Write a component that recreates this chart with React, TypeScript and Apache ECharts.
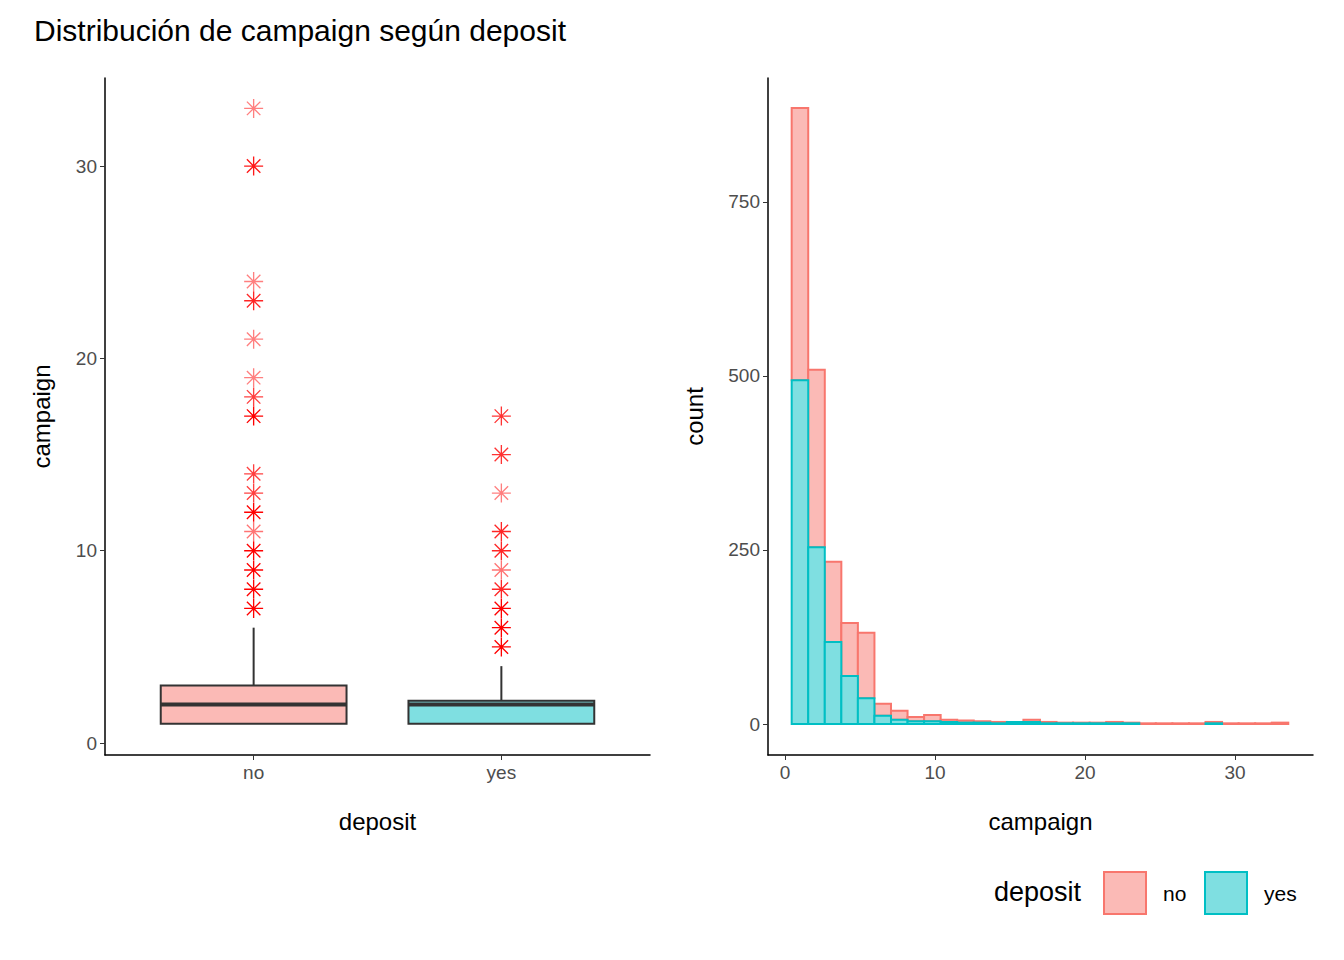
import React, { useEffect, useRef } from "react";
import * as echarts from "echarts";

// boxplot stats per deposit group: [x, lower, q1, median, q3, upper]
const boxGroups = ["no", "yes"];
const boxStats = [
  [1, 1, 1, 2, 3, 6],
  [2, 1, 1, 2, 2.2, 4],
];
// outliers: [x, value, opacity]
const outliersNo = [
  [1, 7, 1], [1, 8, 1], [1, 9, 1], [1, 10, 1], [1, 11, 0.55], [1, 12, 1], [1, 13, 0.75],
  [1, 14, 0.75], [1, 17, 1], [1, 18, 0.75], [1, 19, 0.5], [1, 21, 0.5], [1, 23, 0.85],
  [1, 24, 0.5], [1, 30, 0.9], [1, 33, 0.5],
];
const outliersYes = [
  [2, 5, 1], [2, 6, 1], [2, 7, 1], [2, 8, 0.85], [2, 9, 0.55], [2, 10, 0.85], [2, 11, 0.85],
  [2, 13, 0.5], [2, 15, 0.8], [2, 17, 0.8],
];

// histogram: 30 bins over 1..33
const binStart = 1;
const binWidth = 32 / 29;
const histYes = [494, 254, 118, 69, 37, 12, 6, 4, 4, 3, 2, 2, 1, 3, 3, 1, 1, 1, 1, 1, 1, 0, 0, 0, 0, 1, 0, 0, 0, 0];
const histTotal = [885, 509, 233, 145, 131, 29, 19, 10, 13, 6, 5, 4, 3, 3, 6, 3, 2, 2, 2, 3, 2, 1, 1, 1, 1, 3, 1, 1, 1, 2];
const histNo = histTotal.map((t, i) => t - histYes[i]);

const boxYTicks = [0, 10, 20, 30];
const histXTicks = [0, 10, 20, 30];
const histYTicks = [0, 250, 500, 750];

const NO_LINE = "#F8766D";
const NO_FILL = "#FBBAB6";
const YES_LINE = "#00BFC4";
const YES_FILL = "#7FDFE1";

const ASTERISK =
  "path://M9.3,0H10.7V20H9.3Z M0,9.3H20V10.7H0Z M2.4,3.4L3.4,2.4L17.6,16.6L16.6,17.6Z M16.6,2.4L17.6,3.4L3.4,17.6L2.4,16.6Z";

const FONT = "Liberation Sans";

const axisCommon = {
  axisLine: { show: true, onZero: false, lineStyle: { color: "#000", width: 1.5 } },
  axisTick: { show: true, length: 5, lineStyle: { color: "#333" } },
  axisLabel: { color: "#4d4d4d", fontSize: 19, fontFamily: FONT },
  splitLine: { show: false },
  nameTextStyle: { color: "#000", fontSize: 24, fontFamily: FONT },
};

const App: React.FC = () => {
  const chartRef = useRef<HTMLDivElement>(null);

  useEffect(() => {
    if (!chartRef.current) return;
    const chart = echarts.init(chartRef.current, undefined, { renderer: "svg" });

    const boxRender = (params: any, api: any) => {
      const x = api.value(0);
      const half = 0.375;
      const fill = x === 1 ? NO_FILL : YES_FILL;
      const tl = api.coord([x - half, api.value(4)]);
      const br = api.coord([x + half, api.value(2)]);
      const medL = api.coord([x - half, api.value(3)]);
      const medR = api.coord([x + half, api.value(3)]);
      const wTop = api.coord([x, api.value(5)]);
      const wLow = api.coord([x, api.value(1)]);
      const stroke = { stroke: "#333", lineWidth: 2 };
      return {
        type: "group",
        children: [
          { type: "line", shape: { x1: wTop[0], y1: tl[1], x2: wTop[0], y2: wTop[1] }, style: stroke },
          { type: "line", shape: { x1: wLow[0], y1: br[1], x2: wLow[0], y2: wLow[1] }, style: stroke },
          { type: "rect", shape: { x: tl[0], y: tl[1], width: br[0] - tl[0], height: br[1] - tl[1] }, style: { fill, ...stroke } },
          { type: "line", shape: { x1: medL[0], y1: medL[1], x2: medR[0], y2: medR[1] }, style: { stroke: "#333", lineWidth: 4 } },
        ],
      };
    };

    const histRender = (fill: string, line: string, stacked: boolean) => (params: any, api: any) => {
      const i = api.value(0);
      const h = api.value(1);
      if (h <= 0) return null;
      const base = stacked ? histYes[i] : 0;
      const x0 = binStart + (i - 0.5) * binWidth;
      const p0 = api.coord([x0, base + h]);
      const p1 = api.coord([x0 + binWidth, base]);
      return {
        type: "rect",
        shape: { x: p0[0], y: p0[1], width: p1[0] - p0[0], height: p1[1] - p0[1] },
        style: { fill, stroke: line, lineWidth: 2 },
      };
    };

    const outlierData = (arr: number[][]) =>
      arr.map((d) => ({ value: [d[0], d[1]], itemStyle: { opacity: d[2] } }));

    chart.setOption({
      animation: false,
      title: {
        text: "Distribución de campaign según deposit",
        left: 29,
        top: 10,
        textStyle: { fontSize: 30, fontWeight: "normal", color: "#000", fontFamily: FONT },
      },
      grid: [
        { left: 105, top: 78, width: 545, height: 677 },
        { left: 768, top: 78, width: 545, height: 677 },
      ],
      xAxis: [
        {
          ...axisCommon,
          type: "value",
          gridIndex: 0,
          min: 0.4,
          max: 2.6,
          name: "deposit",
          nameLocation: "middle",
          nameGap: 54,
          axisLabel: { ...axisCommon.axisLabel, customValues: [1, 2], formatter: (v: number) => boxGroups[Math.round(v) - 1] },
          axisTick: { ...axisCommon.axisTick, customValues: [1, 2] },
        },
        {
          ...axisCommon,
          type: "value",
          gridIndex: 1,
          min: -1.13,
          max: 35.2,
          name: "campaign",
          nameLocation: "middle",
          nameGap: 54,
          axisLabel: { ...axisCommon.axisLabel, customValues: histXTicks },
          axisTick: { ...axisCommon.axisTick, customValues: histXTicks },
        },
      ],
      yAxis: [
        {
          ...axisCommon,
          type: "value",
          gridIndex: 0,
          min: -0.62,
          max: 34.58,
          name: "campaign",
          nameLocation: "middle",
          nameGap: 52,
          axisLabel: { ...axisCommon.axisLabel, customValues: boxYTicks },
          axisTick: { ...axisCommon.axisTick, customValues: boxYTicks },
        },
        {
          ...axisCommon,
          type: "value",
          gridIndex: 1,
          min: -44.5,
          max: 928,
          name: "count",
          nameLocation: "middle",
          nameGap: 62,
          axisLabel: { ...axisCommon.axisLabel, customValues: histYTicks },
          axisTick: { ...axisCommon.axisTick, customValues: histYTicks },
        },
      ],
      series: [
        { type: "custom", xAxisIndex: 0, yAxisIndex: 0, renderItem: boxRender, data: boxStats, z: 2 },
        {
          type: "scatter", xAxisIndex: 0, yAxisIndex: 0, symbol: ASTERISK, symbolSize: 19,
          itemStyle: { color: "#FF0000" }, data: outlierData(outliersNo), z: 3,
        },
        {
          type: "scatter", xAxisIndex: 0, yAxisIndex: 0, symbol: ASTERISK, symbolSize: 19,
          itemStyle: { color: "#FF0000" }, data: outlierData(outliersYes), z: 3,
        },
        {
          type: "custom", xAxisIndex: 1, yAxisIndex: 1,
          renderItem: histRender(NO_FILL, NO_LINE, true),
          data: histNo.map((v, i) => [i, v]), z: 2,
        },
        {
          type: "custom", xAxisIndex: 1, yAxisIndex: 1,
          renderItem: histRender(YES_FILL, YES_LINE, false),
          data: histYes.map((v, i) => [i, v]), z: 3,
        },
      ],
      graphic: [
        { type: "text", left: 994, top: 878, style: { text: "deposit", fontSize: 27, fill: "#000", fontFamily: FONT } },
        { type: "rect", shape: { x: 1104, y: 872, width: 42, height: 42 }, style: { fill: NO_FILL, stroke: NO_LINE, lineWidth: 2 } },
        { type: "text", left: 1163, top: 883, style: { text: "no", fontSize: 21, fill: "#000", fontFamily: FONT } },
        { type: "rect", shape: { x: 1205, y: 872, width: 42, height: 42 }, style: { fill: YES_FILL, stroke: YES_LINE, lineWidth: 2 } },
        { type: "text", left: 1264, top: 883, style: { text: "yes", fontSize: 21, fill: "#000", fontFamily: FONT } },
      ],
    });

    return () => {
      chart.dispose();
    };
  }, []);

  return <div ref={chartRef} style={{ width: 1344, height: 960, margin: -8 }} />;
};

export default App;
